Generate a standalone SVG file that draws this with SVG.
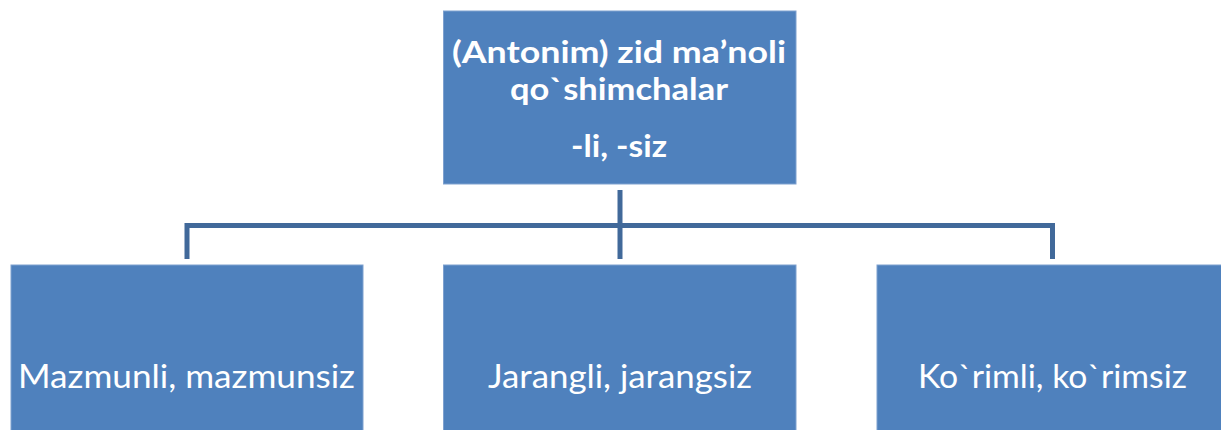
<svg xmlns="http://www.w3.org/2000/svg" width="1221" height="430" viewBox="0 0 1221 430">
<style>
.box{fill:#4F81BD;stroke:#7FA1CF;stroke-width:1}
.t{fill:#FFFFFF;font-family:Lato,"Open Sans",sans-serif;text-anchor:middle}
.b{font-weight:bold;font-size:31px}
.n{font-size:32px}
.c{fill:none;stroke:#41699A;stroke-width:5}
</style>
<rect width="1221" height="430" fill="#FFFFFF"/>
<g id="connectors">
<path class="c" d="M620 190V259"/>
<path class="c" d="M187 259V225.5H1052.5V259"/>
</g>
<g id="root">
<rect class="box" x="443.5" y="11" width="352.5" height="173"/>
<text class="t b" x="619" y="63" textLength="334" lengthAdjust="spacingAndGlyphs">(Antonim) zid ma’noli</text>
<text class="t b" x="619" y="100" textLength="218" lengthAdjust="spacingAndGlyphs">qo`shimchalar</text>
<text class="t b" x="619" y="157" textLength="96" lengthAdjust="spacingAndGlyphs">-li, -siz</text>
</g>
<g id="node1">
<rect class="box" x="11" y="265" width="352" height="170"/>
<text class="t n" x="186.5" y="388" textLength="337" lengthAdjust="spacingAndGlyphs">Mazmunli, mazmunsiz</text>
</g>
<g id="node2">
<rect class="box" x="443.5" y="265" width="352.5" height="170"/>
<text class="t n" x="620" y="388" textLength="264" lengthAdjust="spacingAndGlyphs">Jarangli, jarangsiz</text>
</g>
<g id="node3">
<rect class="box" x="877" y="265" width="352" height="170"/>
<text class="t n" x="1052.5" y="388" textLength="269" lengthAdjust="spacingAndGlyphs">Ko`rimli, ko`rimsiz</text>
</g>
</svg>
